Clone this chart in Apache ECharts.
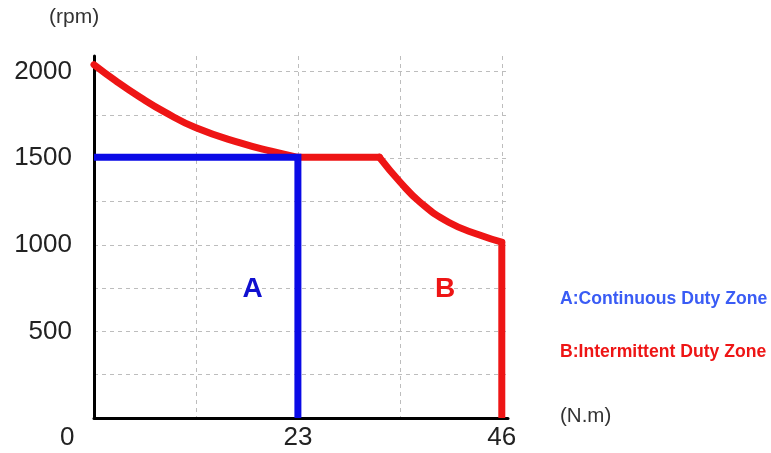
<!DOCTYPE html>
<html>
<head>
<meta charset="utf-8">
<script src="https://cdn.jsdelivr.net/npm/echarts@6/dist/echarts.min.js"></script>
<style>html,body{margin:0;padding:0;background:#fff}#c{width:771px;height:453px}</style>
</head>
<body>
<div id="c"></div>
<script>
// Torque (N.m) vs speed (rpm)
var xTicks = [23, 46];
var yTicks = [500, 1000, 1500, 2000];
var continuousZone = [[0, 1505], [23, 1505], [23, 0]];
var intermittentCurveLow = [[0, 2040], [2.5, 1945], [5.2, 1852], [8, 1766], [11.5, 1676], [16.5, 1588], [20, 1540], [23, 1505]];
var intermittentFlat = [[23, 1505], [32.2, 1505]];
var intermittentCurveHigh = [[32.2, 1505], [34.5, 1364], [36.8, 1245], [40, 1130], [43.5, 1056], [46, 1015]];
var intermittentDrop = [[46, 1015], [46, 0]];
var zoneLabelA = [17.9, 745];
var zoneLabelB = [39.6, 745];

var chart = echarts.init(document.getElementById('c'), null, {renderer: 'canvas'});
var font = 'Liberation Sans, Arial, sans-serif';
var RED = '#ee1515';
var BLUE = '#0a0ae6';
function redLine(data, smooth) {
  return {type: 'line', data: data, smooth: smooth, symbol: 'none',
    lineStyle: {color: RED, width: 7, cap: 'round', join: 'round'}, z: 3};
}
var sLow = redLine(intermittentCurveLow, 0.5);
var sFlat = redLine(intermittentFlat, false);
var sHigh = redLine(intermittentCurveHigh, 0.5);
var sDrop = redLine(intermittentDrop, false);
sDrop.lineStyle.cap = 'butt';
function zoneLabel(pos, text, color) {
  return {
    type: 'scatter', data: [pos], symbol: 'circle', symbolSize: 0,
    itemStyle: {color: color, opacity: 1}, z: 5, silent: true,
    label: {show: true, position: 'inside', formatter: text, color: color,
      fontSize: 28, fontWeight: 'bold', fontFamily: font,
      textBorderWidth: 0, textShadowBlur: 0, opacity: 1}
  };
}
chart.setOption({
  animation: false,
  grid: {left: 94, right: 263, top: 56, bottom: 35, containLabel: false},
  xAxis: {
    type: 'value', min: 0, max: 46.7, interval: 11.5,
    axisLine: {show: true, lineStyle: {color: '#000', width: 3}},
    axisTick: {show: false},
    axisLabel: {
      fontSize: 26, color: '#222', fontFamily: font, margin: 7,
      formatter: function (v) { return xTicks.indexOf(v) >= 0 ? String(v) : ''; }
    },
    splitLine: {show: true, showMaxLine: false, lineStyle: {color: '#bdbdbd', type: [4, 4], width: 1}}
  },
  yAxis: {
    type: 'value', min: 0, max: 2090, interval: 250,
    axisLine: {show: true, lineStyle: {color: '#000', width: 3}},
    axisTick: {show: false},
    axisLabel: {
      fontSize: 26, color: '#222', fontFamily: font, margin: 22,
      formatter: function (v) { return yTicks.indexOf(v) >= 0 ? String(v) : ''; }
    },
    splitLine: {show: true, showMaxLine: false, lineStyle: {color: '#bdbdbd', type: [4, 4], width: 1}}
  },
  series: [
    sLow, sFlat, sHigh, sDrop,
    {
      type: 'line', data: continuousZone, symbol: 'none',
      lineStyle: {color: BLUE, width: 7, join: 'miter'}, z: 4
    },
    zoneLabel(zoneLabelA, 'A', '#1010d0'),
    zoneLabel(zoneLabelB, 'B', RED)
  ],
  graphic: [
    {type: 'text', left: 49, top: 7, style: {text: '(rpm)', fill: '#333', font: '21px ' + font}},
    {type: 'text', left: 560, top: 406, style: {text: '(N.m)', fill: '#333', font: '20.5px ' + font}},
    {type: 'text', left: 60, top: 425, style: {text: '0', fill: '#222', font: '26px ' + font}},
    {type: 'text', left: 560, top: 290, style: {text: 'A:Continuous Duty Zone', fill: '#3a5cf5', font: 'bold 17.6px ' + font}},
    {type: 'text', left: 560, top: 343, style: {text: 'B:Intermittent Duty Zone', fill: '#ee1515', font: 'bold 17.6px ' + font}}
  ]
});
</script>
</body>
</html>
